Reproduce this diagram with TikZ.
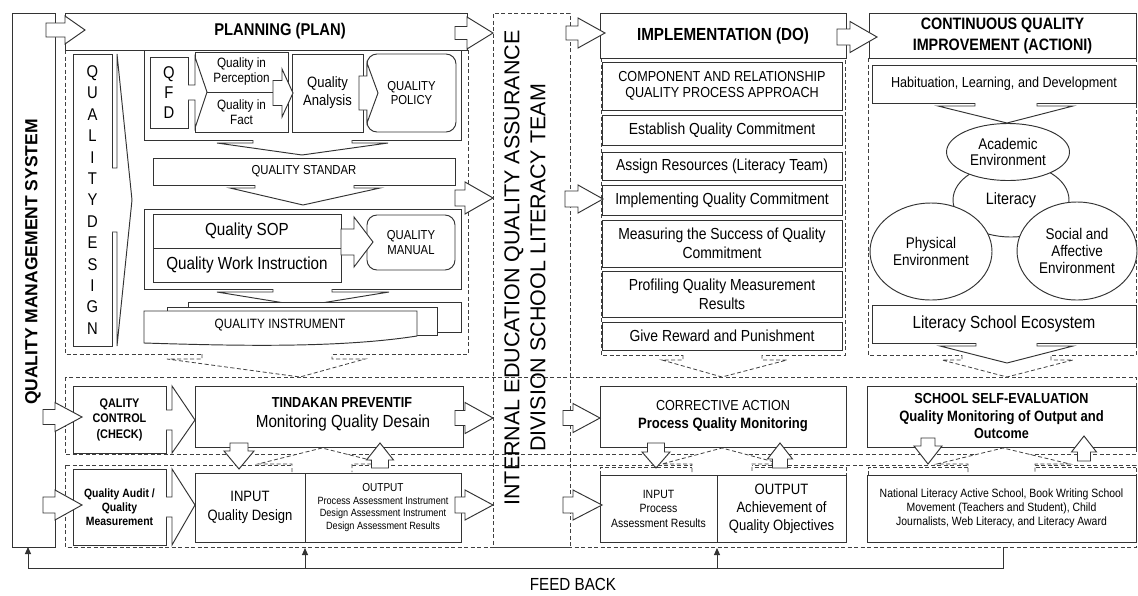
\documentclass[tikz,border=0pt]{standalone}
\usepackage{fontspec}
\setmainfont{Liberation Sans}[FakeStretch=0.87]
\newfontfamily\plainsf{Liberation Sans}
\usetikzlibrary{shapes.geometric,arrows.meta}
\newcommand{\fsz}[2]{\fontsize{#1pt}{#2pt}\selectfont}
\newcommand{\mkbox}[7]{\node[#1,minimum width={(#5)-(#3)},minimum height={(#6)-(#4)}] (#2) at ({((#3)+(#5))/2},{((#4)+(#6))/2}) {#7};}
\newcommand{\RA}[6]{\draw[blk] (#1,#4-#5) -- (#2,#4-#5) -- (#2,#4-#6) -- (#3,#4) -- (#2,#4+#6) -- (#2,#4+#5) -- (#1,#4+#5) -- cycle;}
\newcommand{\VA}[6]{\draw[blk] (#1-#5,#2) -- (#1-#5,#3) -- (#1-#6,#3) -- (#1,#4) -- (#1+#6,#3) -- (#1+#5,#3) -- (#1+#5,#2) -- cycle;}
\newcommand{\CH}[9]{\filldraw[#1] (#3,#6) -- (#3,#7) -- (#2,#7) -- (#8,#9) -- (#5,#7) -- (#4,#7) -- (#4,#6);}
\newcommand{\HC}[8]{\filldraw[blk] (#1,#3) -- (#2,#3) -- (#2,#5) -- (#7,#8) -- (#2,#6) -- (#2,#4) -- (#1,#4);}
\begin{document}
\begin{tikzpicture}[x=1pt,y=-1pt,
  ln/.style={draw=black!80,line width=0.95pt},
  bx/.style={ln,fill=white,rectangle,inner sep=0pt,outer sep=0pt,align=center,text=black},
  rbx/.style={bx,rounded corners=10pt},
  dsh/.style={draw=black!75,line width=0.8pt,dash pattern=on 4pt off 2.5pt},
  blk/.style={ln,fill=white,line join=miter},
  dchev/.style={dsh,fill=white},
  lbl/.style={inner sep=0pt,outer sep=0pt,align=center,text=black},
  ell/.style={ellipse,ln,fill=white,inner sep=0pt,align=center,text=black},
  fb/.style={draw=black!80,line width=0.95pt}]
\fill[white] (0,0) rectangle (1138,595);
\useasboundingbox (0,0) rectangle (1138,595);

% ---------- dashed regions ----------
\draw[dsh] (65,50) rectangle (468,354);
\draw[dsh] (601,58) rectangle (845,355);
\draw[dsh] (868,58) rectangle (1136,355);
\draw[dsh] (65,377) rectangle (1136,454);
\draw[dsh] (65,465) rectangle (1136,547);
\mkbox{dsh,inner sep=0pt,outer sep=0pt}{internal}{493}{13}{570}{547}{}
\node[lbl,rotate=90,font=\plainsf\fsz{21.5}{26}] (inttxt) at (525,268) {INTERNAL EDUCATION QUALITY ASSURANCE\\DIVISION SCHOOL LITERACY TEAM};

% dashed chevrons between bands
\CH{dchev}{167}{202}{332}{365}{354}{359}{300}{377}
\CH{dchev}{662}{683}{762}{787}{355}{360}{722}{377}
\CH{dchev}{942}{962}{1051}{1073}{355}{360}{1007}{377}
\draw[dsh] (600,475) -- (600,467) -- (846,467) -- (846,475);
\draw[dsh] (868,475) -- (868,467) -- (1136,467);
\CH{dchev}{258}{292}{352}{386}{472}{464}{322}{448}
\CH{dchev}{662}{692}{752}{782}{472}{464}{722}{448}
\CH{dchev}{937}{968}{1035}{1070}{472}{464}{1003}{448}

% ---------- left: QMS ----------
\mkbox{bx}{qms}{12}{13}{55}{547}{}
\node[lbl,rotate=90,font=\plainsf\bfseries\fsz{17.5}{20}] (qmstxt) at (33,262) {QUALITY MANAGEMENT SYSTEM};

% ---------- planning ----------
\mkbox{bx}{planhdr}{65}{13}{467}{50}{}
\node[lbl,font=\bfseries\fsz{17}{20}] (plantxt) at (280,31) {PLANNING (PLAN)};
\mkbox{bx,font=\fsz{17}{21.4}}{qdesign}{73}{54}{112}{346}{Q\\U\\A\\L\\I\\T\\Y\\D\\E\\S\\I\\G\\N}
\HC{112}{117}{168}{232}{54}{346}{132}{200}

\mkbox{bx}{qfdgrp}{144}{50}{461}{140}{}
\mkbox{bx,font=\fsz{17}{20}}{qfd}{150}{57}{188}{128}{Q\\F\\D}
\mkbox{bx,font=\fsz{13.5}{15}}{perc}{195}{52}{288}{92}{Quality in\\Perception}
\mkbox{bx,font=\fsz{13.5}{15}}{fact}{195}{92}{288}{132}{Quality in\\Fact}
\HC{188}{195}{85}{100}{57}{128}{207}{92}
\mkbox{bx,font=\fsz{15}{18}}{qa}{292}{54}{363}{132}{Quality\\Analysis}
\mkbox{rbx,font=\fsz{13}{14.5}}{policy}{367}{54}{456}{132}{QUALITY\\POLICY}
\RA{273}{282}{293}{93}{12.5}{24}
\RA{359}{367}{378}{93}{17}{30}
\CH{blk}{217}{253}{352}{388}{140}{143}{302}{155}

\mkbox{bx,font=\fsz{13}{15}}{standar}{153}{158}{455}{185}{QUALITY STANDAR}
\CH{blk}{230}{255}{354}{380}{185}{188}{303}{205}

\mkbox{bx}{sopgrp}{144}{209}{461}{289}{}
\mkbox{bx,font=\fsz{17.5}{20}}{sop}{153}{214}{341}{248}{Quality SOP}
\mkbox{bx,font=\fsz{17.5}{20}}{qwi}{153}{248}{341}{282}{Quality Work Instruction}
\mkbox{rbx,font=\fsz{13}{15}}{manual}{367}{215}{455}{270}{QUALITY\\MANUAL}
\RA{341}{354}{373}{242}{13}{25}
\CH{blk}{217}{273}{332}{389}{289}{292}{303}{306}

\mkbox{bx}{instrC}{188}{302}{461}{332}{}
\mkbox{bx}{instrB}{167}{307}{437}{335}{}
\filldraw[ln,fill=white] (144,311) -- (417,311) -- (417,336) .. controls (340,348) and (240,346) .. (144,343) -- cycle;
\node[lbl,font=\fsz{13.5}{15}] (instr) at (280,325) {QUALITY INSTRUMENT};

% ---------- implementation ----------
\mkbox{bx,font=\bfseries\fsz{17.5}{20}}{implhdr}{600}{13}{846}{58}{IMPLEMENTATION (DO)}
\mkbox{bx,font=\fsz{14.5}{16}}{comp}{602}{62}{842}{110}{COMPONENT AND RELATIONSHIP\\QUALITY PROCESS APPROACH}
\mkbox{bx,font=\fsz{16}{19}}{estab}{602}{115}{842}{145}{Establish Quality Commitment}
\mkbox{bx,font=\fsz{16}{19}}{assign}{602}{152}{842}{180}{Assign Resources (Literacy Team)}
\mkbox{bx,font=\fsz{16}{19}}{implqc}{602}{185}{842}{215}{Implementing Quality Commitment}
\mkbox{bx,font=\fsz{16}{19}}{measure}{602}{220}{842}{267}{Measuring the Success of Quality\\Commitment}
\mkbox{bx,font=\fsz{16}{19}}{profile}{602}{271}{842}{317}{Profiling Quality Measurement\\Results}
\mkbox{bx,font=\fsz{16}{19}}{reward}{602}{322}{842}{350}{Give Reward and Punishment}

% ---------- continuous improvement ----------
\mkbox{bx,font=\bfseries\fsz{16.5}{21}}{cqihdr}{869}{13}{1136}{58}{CONTINUOUS QUALITY\\IMPROVEMENT (ACTIONI)}
\mkbox{bx,font=\fsz{14.5}{17}}{habit}{872}{65}{1136}{103}{Habituation, Learning, and Development}
\node[ell,minimum width=116,minimum height=74,font=\fsz{16.5}{18}] (lit) at (1011,200) {Literacy};
\node[ell,minimum width=123,minimum height=57,font=\fsz{15.5}{16}] (acad) at (1008,152) {Academic\\Environment};
\node[ell,minimum width=122,minimum height=97,font=\fsz{15.5}{16.5}] (phys) at (931,251.5) {Physical\\Environment};
\node[ell,minimum width=120,minimum height=98,font=\fsz{15.5}{17}] (soc) at (1077,251) {Social and\\Affective\\Environment};
\CH{blk}{938}{975}{1037}{1073}{103}{106}{1007}{123}
\mkbox{bx,font=\fsz{17.5}{20}}{ecosys}{872}{305}{1136}{343}{Literacy School Ecosystem}
\CH{blk}{940}{976}{1037}{1073}{343}{346}{1007}{363}

% ---------- check band ----------
\mkbox{bx,font=\bfseries\fsz{12.5}{15.5}}{control}{73}{386}{166}{453}{QALITY\\CONTROL\\(CHECK)}
\mkbox{bx}{tind}{195}{386}{463}{447}{}
\node[lbl,font=\bfseries\fsz{14.5}{17}] (tindA) at (342,403) {TINDAKAN PREVENTIF};
\node[lbl,font=\fsz{17.5}{20}] (tindB) at (343,423) {Monitoring Quality Desain};
\HC{166}{172}{410}{430}{386}{453}{195}{420}
\mkbox{bx,font=\fsz{14.5}{18}}{corr}{600}{386}{846}{447}{CORRECTIVE ACTION\\\bfseries\fsz{15}{18}Process Quality Monitoring}
\mkbox{bx,font=\bfseries\fsz{14.5}{17.5}}{selfev}{867}{386}{1136}{447}{SCHOOL SELF-EVALUATION\\\fsz{15}{17.5}Quality Monitoring of Output and\\Outcome}

% ---------- measurement band ----------
\mkbox{bx,font=\bfseries\fsz{12}{14}}{audit}{73}{469}{166}{545}{Quality Audit /\\Quality\\Measurement}
\mkbox{bx,font=\fsz{15}{19}}{pin}{195}{473}{305}{542}{INPUT\\Quality Design}
\mkbox{bx,font=\fsz{10.5}{12.5}}{pout}{305}{473}{461}{542}{{\fsz{11.5}{12.5}OUTPUT}\\Process Assessment Instrument\\Design Assessment Instrument\\Design Assessment Results}
\HC{166}{172}{497}{517}{469}{545}{195}{505}
\mkbox{bx,font=\fsz{12}{14.5}}{cin}{600}{475}{717}{542}{INPUT\\Process\\Assessment Results}
\mkbox{bx,font=\fsz{15}{18}}{cout}{717}{475}{846}{542}{OUTPUT\\Achievement of\\Quality Objectives}
\mkbox{bx,font=\fsz{12}{14}}{natl}{867}{475}{1136}{542}{National Literacy Active School, Book Writing School\\Movement (Teachers and Student), Child\\Journalists, Web Literacy, and Literacy Award}

% ---------- block arrows ----------
\RA{46}{65}{85}{30}{7}{14}
\RA{43}{55}{82}{417}{7.5}{14.5}
\RA{43}{55}{82}{505}{8}{15}
\RA{455}{467}{493}{33}{6.5}{16}
\RA{455}{465}{493}{198}{8}{16}
\RA{455}{465}{493}{418}{7.5}{15.5}
\RA{455}{465}{493}{505}{8}{15}
\RA{566}{578}{605}{33}{7}{15}
\RA{565}{578}{603}{199}{8}{14}
\RA{563}{573}{600}{418}{7.5}{14.5}
\RA{563}{573}{602}{505}{8}{15}
\RA{837}{850}{877}{37}{8}{15.5}
\VA{239}{443}{451}{469}{9}{15}
\VA{380}{468}{460}{443}{8.5}{13.5}
\VA{656}{443}{452}{468}{8.5}{14}
\VA{780}{468}{459}{443}{7.5}{12.5}
\VA{928}{438}{446}{464}{7}{14}
\VA{1084}{461}{452}{436}{6.5}{12.5}

% ---------- feedback ----------
\coordinate (fbR) at (1003,547);
\coordinate (fbL) at (28,568);
\coordinate (fbP) at (305,548);
\coordinate (fbC) at (717,548);
\draw[fb,-{Triangle[length=7pt,width=6pt]}] (fbR) |- (fbL) -- (fbL |- qms.south);
\draw[fb,-{Triangle[length=7pt,width=6pt]}] (fbP |- fbL) -- (fbP);
\draw[fb,-{Triangle[length=7pt,width=6pt]}] (fbC |- fbL) -- (fbC);
\node[lbl,font=\fsz{17.5}{20}] (fbtxt) at (573,584) {FEED BACK};
\end{tikzpicture}
\end{document}
